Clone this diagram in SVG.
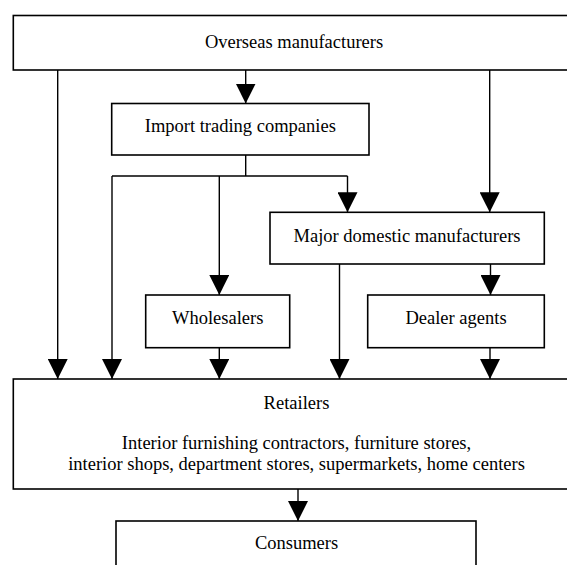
<svg xmlns="http://www.w3.org/2000/svg" width="567" height="565" viewBox="0 0 567 565">
<style>
.box{fill:#fff;stroke:#000;stroke-width:1.6}
.ln{fill:none;stroke:#000;stroke-width:1.4}
.t{font-family:"Liberation Serif","Times New Roman",serif;font-size:18.5px;fill:#000;text-anchor:middle}
</style>
<defs>
<marker id="ah" markerUnits="userSpaceOnUse" markerWidth="20" markerHeight="20" viewBox="0 0 19 19" refX="19" refY="9.5" orient="auto">
<path d="M0,0 L19,9.5 L0,19 z" fill="#000"/>
</marker>
</defs>
<rect width="567" height="565" fill="#fff"/>
<g id="connectors">
<line class="ln" x1="57.7" y1="70" x2="57.7" y2="379" marker-end="url(#ah)"/>
<line class="ln" x1="245.7" y1="70" x2="245.7" y2="103.5" marker-end="url(#ah)"/>
<line class="ln" x1="489.7" y1="70" x2="489.7" y2="212.3" marker-end="url(#ah)"/>
<line class="ln" x1="245.7" y1="155" x2="245.7" y2="176"/>
<line class="ln" x1="112" y1="176" x2="347.5" y2="176"/>
<line class="ln" x1="112" y1="176" x2="112" y2="379" marker-end="url(#ah)"/>
<line class="ln" x1="219.3" y1="176" x2="219.3" y2="295" marker-end="url(#ah)"/>
<line class="ln" x1="347.5" y1="176" x2="347.5" y2="212.3" marker-end="url(#ah)"/>
<line class="ln" x1="339.5" y1="264" x2="339.5" y2="379" marker-end="url(#ah)"/>
<line class="ln" x1="490.5" y1="264" x2="490.5" y2="295" marker-end="url(#ah)"/>
<line class="ln" x1="219.3" y1="347.7" x2="219.3" y2="379" marker-end="url(#ah)"/>
<line class="ln" x1="490" y1="347.7" x2="490" y2="379" marker-end="url(#ah)"/>
<line class="ln" x1="298" y1="489" x2="298" y2="521" marker-end="url(#ah)"/>
</g>
<g id="overseas">
<rect class="box" x="13.3" y="15.5" width="570" height="54.5"/>
<text class="t" x="294" y="47.5">Overseas manufacturers</text>
</g>
<g id="import">
<rect class="box" x="111.7" y="103.5" width="257.3" height="51.5"/>
<text class="t" x="240.3" y="132">Import trading companies</text>
</g>
<g id="major">
<rect class="box" x="270" y="212.3" width="274.3" height="51.7"/>
<text class="t" x="407" y="241.7">Major domestic manufacturers</text>
</g>
<g id="wholesalers">
<rect class="box" x="145.7" y="295" width="144" height="52.7"/>
<text class="t" x="217.7" y="323.5">Wholesalers</text>
</g>
<g id="dealers">
<rect class="box" x="367.7" y="295" width="176.6" height="52.7"/>
<text class="t" x="456" y="323.5">Dealer agents</text>
</g>
<g id="retailers">
<rect class="box" x="13.3" y="379" width="570" height="110"/>
<text class="t" x="296.5" y="409">Retailers</text>
<text class="t" x="296.5" y="448.5">Interior furnishing contractors, furniture stores,</text>
<text class="t" x="296.5" y="469.5">interior shops, department stores, supermarkets, home centers</text>
</g>
<g id="consumers">
<rect class="box" x="116" y="521" width="360" height="60"/>
<text class="t" x="296.5" y="549">Consumers</text>
</g>
</svg>
